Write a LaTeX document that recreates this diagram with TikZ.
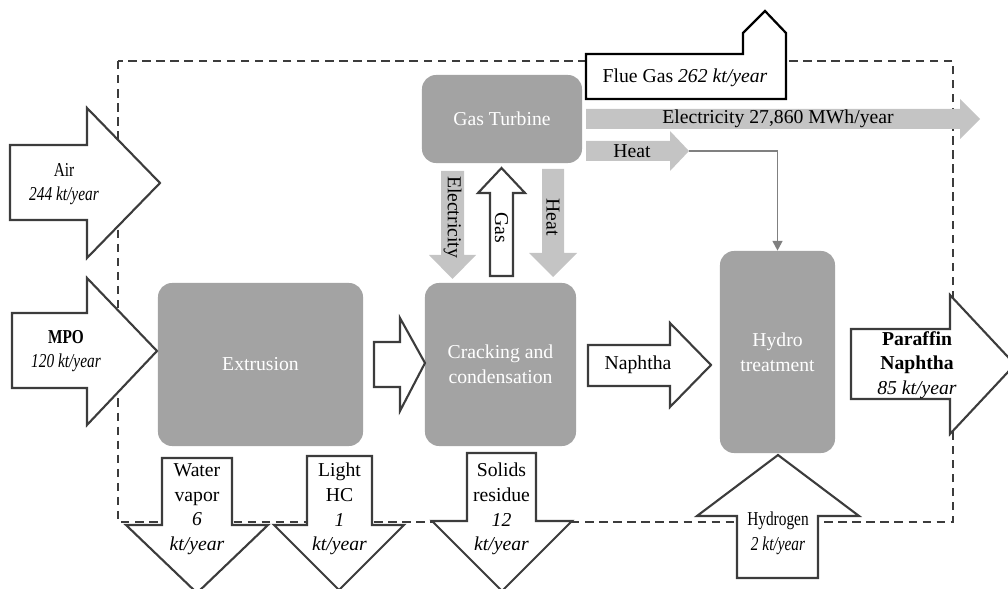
\documentclass[tikz,border=0pt]{standalone}
\usepackage{fontspec}
\setmainfont{Liberation Serif}
\usetikzlibrary{arrows.meta}
\definecolor{unitgray}{RGB}{163,163,163}
\definecolor{flowgray}{RGB}{196,196,196}
\definecolor{edge}{RGB}{60,60,60}
\definecolor{wire}{RGB}{128,128,128}
\newcommand{\slim}[1]{\scalebox{0.78}[1]{#1}}

\begin{document}
\begin{tikzpicture}[x=0.025cm,y=-0.025cm,font=\fontsize{14}{17.5}\selectfont,
  unit/.style={fill=unitgray,rounded corners=10pt,text=white,align=center},
  blk/.style={draw=edge,fill=white,line width=1.5pt,line join=miter},
  feed/.style={fill=flowgray},
  lbl/.style={align=center,inner sep=0pt}]
  \useasboundingbox (0,0) rectangle (1008,589);
  % system boundary
  \draw[edge,line width=1.5pt,dash pattern=on 6pt off 4pt] (118,61) rectangle (953,522);

  % process units
  \node[unit,minimum width=5.125cm,minimum height=4.075cm] (ext) at (260.5,364.5){Extrusion};
  \node[unit,minimum width=3.775cm,minimum height=4.075cm] (crack) at (500.5,364.5){Cracking and\\condensation};
  \node[unit,minimum width=4cm,minimum height=2.2cm] (turb) at (502,119){Gas Turbine};
  \node[unit,minimum width=2.875cm,minimum height=5.05cm] (hydro) at (777.5,352){Hydro\\treatment};

  % feeds in
  \filldraw[blk] (10,145) -- (87,145) -- (87,108) -- (160,183) -- (87,258) -- (87,220) -- (10,220) -- cycle;
  \node[lbl] (air) at (64,184){\slim{Air}\\\slim{\itshape 244 kt/year}};
  \filldraw[blk] (12,313) -- (87,313) -- (87,278) -- (157,351) -- (87,425) -- (87,388) -- (12,388) -- cycle;
  \node[lbl] (mpo) at (66,351){\slim{\bfseries MPO}\\\slim{\itshape 120 kt/year}};
  \filldraw[blk] (737,578) -- (737,516) -- (697,516) -- (778,455) -- (859,516) -- (818,516) -- (818,578) -- cycle;
  \node[lbl] (h2) at (778,533){\slim{Hydrogen}\\\slim{\itshape 2 kt/year}};

  % transfers between units
  \filldraw[blk] (374,342) -- (400,342) -- (400,318) -- (425,363) -- (400,411) -- (400,387) -- (374,387) -- cycle;
  \filldraw[blk] (588,345) -- (670,345) -- (670,323) -- (711,365) -- (670,407) -- (670,386) -- (588,386) -- cycle;
  \node[lbl] (naph) at (638,365){Naphtha};
  \fill[feed] (441,171) -- (464,171) -- (464,255) -- (476,255) -- (452.5,279) -- (429,255) -- (441,255) -- cycle;
  \node[lbl,rotate=-90] (elin) at (452.5,217){Electricity};
  \filldraw[blk] (490,276) -- (490,193) -- (478,193) -- (501.5,168) -- (525,193) -- (513,193) -- (513,276) -- cycle;
  \node[lbl,rotate=-90] (gas) at (501.5,228){Gas};
  \fill[feed] (542,169) -- (564,169) -- (564,253) -- (577,253) -- (553,277) -- (529,253) -- (542,253) -- cycle;
  \node[lbl,rotate=-90] (heatin) at (553,217){Heat};

  % turbine outputs
  \filldraw[draw=black,fill=white,line width=1.6pt] (586,99) -- (586,54) -- (743,54) -- (743,33) -- (765,11) -- (786,33) -- (786,99) -- cycle;
  \node[lbl] (flue) at (685,78){Flue Gas \textit{262 kt/year}};
  \fill[feed] (586,109) -- (960,109) -- (960,99) -- (980,119) -- (960,139) -- (960,129) -- (586,129) -- cycle;
  \node[lbl] (elout) at (778,119){Electricity 27,860 MWh/year};
  \fill[feed] (586,141) -- (670,141) -- (670,131) -- (689,151) -- (670,171) -- (670,161) -- (586,161) -- cycle;
  \node[lbl] (heatout) at (632,151){Heat};
  \coordinate (heattip) at (689,151);
  \draw[wire,line width=1.4pt,-{Triangle[length=7pt,width=7pt]}] (heattip) -| (hydro.north);

  % products out
  \filldraw[blk] (851,329) -- (950,329) -- (950,295) -- (1015,364.5) -- (950,434) -- (950,399) -- (851,399) -- cycle;
  \node[lbl] (prod) at (917,365){\textbf{Paraffin}\\\textbf{Naphtha}\\\textit{85 kt/year}};
  \filldraw[blk] (162,458) -- (232,458) -- (232,525) -- (268,525) -- (197,593) -- (126,525) -- (162,525) -- cycle;
  \node[lbl] (water) at (197,509){Water\\vapor\\\textit{6}\\\textit{kt/year}};
  \filldraw[blk] (307,456) -- (372,456) -- (372,525) -- (404,525) -- (339,590) -- (274,525) -- (307,525) -- cycle;
  \node[lbl] (lhc) at (339.5,509){Light\\HC\\\textit{1}\\\textit{kt/year}};
  \filldraw[blk] (467,453) -- (536,453) -- (536,521) -- (572,521) -- (502,591) -- (432,521) -- (467,521) -- cycle;
  \node[lbl] (solid) at (501.5,509){Solids\\residue\\\textit{12}\\\textit{kt/year}};
\end{tikzpicture}
\end{document}
